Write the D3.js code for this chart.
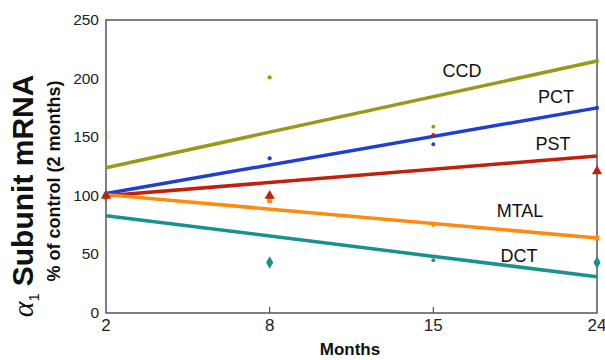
<html>

<head>
    <script src="https://d3js.org/d3.v7.min.js"></script>
    <style>
        body { margin: 0; background: white; }
        text { font-family: Arial, "Liberation Sans", sans-serif; }
    </style>
</head>

<body>
    <svg id="chart" height="360" width="605"></svg>
    <script>

        // months on the x axis (evenly spaced categories)
        const months = ["2", "8", "15", "24"]
        const series = ["CCD", "PCT", "PST", "MTAL", "DCT"]

        // measured values, % of control
        const ccdValues = [100, 201, 159, 215]
        const pctValues = [100, 132, 144, 175]
        const pstValues = [100, 100, 152, 121]
        const mtalValues = [100, 96, 75, 64]
        const dctValues = [100, 43, 45, 43]

        // trend line values at 2 and 24 months
        const trendStart = [124, 102, 100, 101, 83]
        const trendEnd = [215, 175, 134, 64, 31]

        const yTicks = [0, 50, 100, 150, 200, 250]

        const colors = ["#99991a", "#1f3fd0", "#c0200c", "#ff8a10", "#1a928c"]
        const symbols = [d3.symbolCircle, d3.symbolCircle, d3.symbolTriangle, d3.symbolSquare, d3.symbolDiamond]
        const symSizes = [14, 14, 45, 25, 45]
        const allValues = [ccdValues, pctValues, pstValues, mtalValues, dctValues]

        const svg = d3.select("#chart")
        const margin = { left: 106, right: 8, top: 20, bottom: 47 }
        const width = 605, height = 360

        const x = d3.scalePoint().domain(months).range([margin.left, width - margin.right])
        const y = d3.scaleLinear().domain([0, 250]).range([height - margin.bottom, margin.top])

        // frame
        svg.append("rect")
            .attr("x", x("2")).attr("y", y(250))
            .attr("width", x("24") - x("2")).attr("height", y(0) - y(250))
            .style("fill", "none").style("stroke", "#555").style("stroke-width", 1.5)

        // inner ticks on x axis
        svg.selectAll("line.xt").data(["8", "15"])
            .join("line")
            .attr("x1", d => x(d)).attr("x2", d => x(d))
            .attr("y1", y(0)).attr("y2", y(0) - 6)
            .style("stroke", "#555").style("stroke-width", 1.2)

        svg.selectAll("text.xl").data(months)
            .join("text")
            .attr("x", d => x(d)).attr("y", y(0) + 18)
            .attr("text-anchor", "middle")
            .style("font-size", "17px").style("fill", "#222")
            .text(d => d)

        svg.selectAll("text.yl").data(yTicks)
            .join("text")
            .attr("x", margin.left - 7).attr("y", d => y(d) + 5)
            .attr("text-anchor", "end")
            .style("font-size", "15.5px").style("fill", "#222")
            .text(d => d)

        // trend lines
        series.forEach((s, i) => {
            svg.append("line")
                .attr("x1", x("2")).attr("y1", y(trendStart[i]))
                .attr("x2", x("24")).attr("y2", y(trendEnd[i]))
                .style("stroke", colors[i]).style("stroke-width", 3.5)
        })

        // markers (small ones at 15 months, PST drawn last)
        const drawOrder = [4, 0, 1, 3, 2]
        drawOrder.forEach(i => {
            svg.selectAll("path.m" + i).data(allValues[i])
                .join("path")
                .attr("class", "m" + i)
                .attr("transform", (d, j) => `translate(${x(months[j])},${y(d)})`)
                .attr("d", (d, j) => d3.symbol().type(j == 2 ? d3.symbolCircle : symbols[i])
                    .size(j == 2 ? 12 : symSizes[i])())
                .style("fill", colors[i])
        })

        // series labels
        const labelPos = [[462, 77], [556, 103], [553, 150], [520, 217], [519, 262]]
        series.forEach((s, i) => {
            svg.append("text")
                .attr("x", labelPos[i][0]).attr("y", labelPos[i][1])
                .attr("text-anchor", "middle")
                .style("font-size", "18px").style("fill", "#111")
                .text(s)
        })

        svg.append("text")
            .attr("x", 350).attr("y", 355)
            .attr("text-anchor", "middle")
            .style("font-size", "17px").style("font-weight", "bold").style("fill", "#111")
            .text("Months")

        const t1 = svg.append("text")
            .attr("transform", "translate(33,196) rotate(-90)")
            .attr("text-anchor", "middle")
            .style("font-size", "30px").style("font-weight", "bold").style("fill", "#111")
        t1.append("tspan").style("font-family", "'Liberation Serif', serif").style("font-style", "italic")
            .style("font-weight", "normal").text("α")
        t1.append("tspan").attr("dy", 6).style("font-size", "15px").style("font-weight", "normal").text("1")
        t1.append("tspan").attr("dy", -6).attr("dx", 7).text("Subunit mRNA")

        svg.append("text")
            .attr("transform", "translate(60,181) rotate(-90)")
            .attr("text-anchor", "middle")
            .style("font-size", "18px").style("font-weight", "bold").style("fill", "#111")
            .text("% of control (2 months)")

    </script>
</body>

</html>
